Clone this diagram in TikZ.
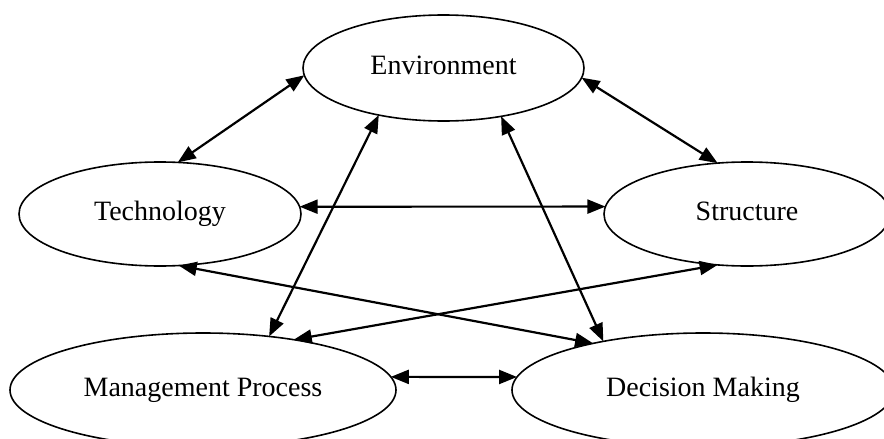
\documentclass[tikz,border=0pt]{standalone}
\usepackage{fontspec}
\setmainfont{Liberation Serif}
\usetikzlibrary{arrows.meta,shapes.geometric}
\begin{document}
\begin{tikzpicture}[x=0.5pt,y=-0.5pt,
  ell/.style={draw,ellipse,line width=0.8pt,inner sep=0pt,outer sep=0pt,text height=9.5pt,text depth=3pt,font=\fontsize{14}{16}\selectfont},
  link/.style={line width=1.1pt,{Triangle[length=9pt,width=7pt]}-{Triangle[length=9pt,width=7pt]}}]
\useasboundingbox (0,0) rectangle (884,439);
\node[ell,minimum width=140.5pt,minimum height=53pt] (env) at (443.5,68) {Environment};
\node[ell,minimum width=141pt,minimum height=52pt] (tech) at (160,214) {Technology};
\node[ell,minimum width=143pt,minimum height=52pt] (struct) at (747,214) {Structure};
\node[ell,minimum width=193pt,minimum height=57pt] (mgmt) at (203,390) {Management Process};
\node[ell,minimum width=191pt,minimum height=57pt] (dm) at (703,390) {Decision Making};
\draw[link] (env.183) -- (tech.71);
\draw[link] (env.-4) -- (struct.120.6);
\draw[link] (tech.3) -- (struct.177);
\draw[link] (tech.-70) -- (dm.157.3);
\draw[link] (struct.-120) -- (mgmt.29.2);
\draw[link] (env.216) -- (mgmt.39.6);
\draw[link] (env.-40) -- (dm.154.1);
\draw[link] (mgmt.4) -- (dm.176);
\end{tikzpicture}
\end{document}
